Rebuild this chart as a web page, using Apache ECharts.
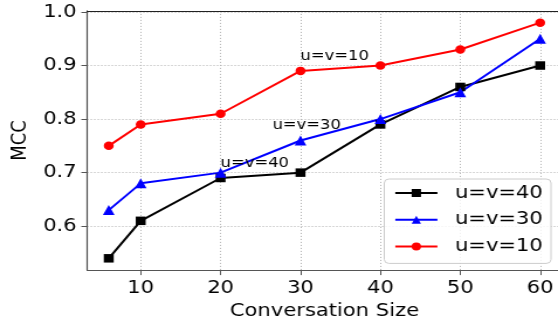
<!DOCTYPE html>
<html>
<head>
<meta charset="utf-8">
<script src="https://cdn.jsdelivr.net/npm/echarts@6/dist/echarts.min.js"></script>
<style>
  html, body { margin: 0; padding: 0; background: #fff; overflow: hidden; width: 558px; height: 325px; }
  /* The figure is laid out on a narrower canvas and widened horizontally;
     the plot area runs past the right edge of the window. */
  #chart { width: 490px; height: 325px; transform: scaleX(1.16981); transform-origin: 0 0; }
</style>
</head>
<body>
<div id="chart"></div>
<script>
// Conversation sizes on the x axis
const sizes = [6, 10, 20, 30, 40, 50, 60];

// MCC for each (u, v) setting
const mccUV40 = [0.54, 0.61, 0.69, 0.70, 0.79, 0.86, 0.90];
const mccUV30 = [0.63, 0.68, 0.70, 0.76, 0.80, 0.85, 0.95];
const mccUV10 = [0.75, 0.79, 0.81, 0.89, 0.90, 0.93, 0.98];

// Tick labels
const xTicks = [10, 20, 30, 40, 50, 60];
const yTicks = [0.6, 0.7, 0.8, 0.9, 1.0];

// In-plot annotations (text, x, y at the text baseline)
const notes = [
  { text: 'u=v=10', x: 30, y: 0.91 },
  { text: 'u=v=30', x: 26.5, y: 0.78 },
  { text: 'u=v=40', x: 20, y: 0.71 }
];

const FONT = 'DejaVu Sans';
const pairs = vals => sizes.map((s, i) => [s, vals[i]]);

function noteMarks(list) {
  return {
    symbol: 'circle',
    symbolSize: 0,
    silent: true,
    label: {
      show: true,
      position: [0, 0],
      align: 'left',
      verticalAlign: 'bottom',
      offset: [0, 3],
      fontFamily: FONT,
      fontSize: 14,
      color: '#000',
      formatter: p => p.name
    },
    data: list.map(n => ({ name: n.text, coord: [n.x, n.y] }))
  };
}

const chart = echarts.init(document.getElementById('chart'), null, { renderer: 'canvas' });

const lineSeries = (name, vals, color, symbol, size, marks) => ({
  name: name,
  type: 'line',
  data: pairs(vals),
  color: color,
  symbol: symbol,
  symbolSize: size,
  showAllSymbol: true,
  lineStyle: { color: color, width: 2 },
  itemStyle: { color: color },
  emphasis: { disabled: true },
  markPoint: marks,
  z: 3
});

chart.setOption({
  animation: false,
  grid: { left: 71, right: 9.8, top: 10.9, bottom: 52.3, containLabel: false },
  xAxis: [{
    type: 'value',
    min: 3.3,
    max: 62.7,
    position: 'bottom',
    name: 'Conversation Size',
    nameLocation: 'middle',
    nameGap: 31,
    nameTextStyle: { fontFamily: FONT, fontSize: 18, color: '#000' },
    axisLine: { show: true, lineStyle: { color: '#555', width: 1.2 } },
    axisTick: { show: true, length: 5, customValues: xTicks, lineStyle: { color: '#555', width: 1 } },
    axisLabel: { show: true, customValues: xTicks, margin: 9, fontFamily: FONT, fontSize: 18, color: '#000',
                 formatter: v => String(v) },
    splitLine: { show: true, lineStyle: { color: '#b0b0b0', width: 1, type: [1, 2] } }
  }, {
    type: 'value',
    min: 3.3,
    max: 62.7,
    position: 'top',
    axisLine: { show: true, lineStyle: { color: '#222', width: 1 } },
    axisTick: { show: false },
    axisLabel: { show: false },
    splitLine: { show: false }
  }],
  yAxis: {
    type: 'value',
    min: 0.518,
    max: 1.002,
    name: 'MCC',
    nameLocation: 'middle',
    nameGap: 40,
    nameRotate: 90,
    nameTextStyle: { fontFamily: FONT, fontSize: 18, color: '#000' },
    axisLine: { show: true, lineStyle: { color: '#555', width: 1.2 } },
    axisTick: { show: true, length: 5, customValues: yTicks, lineStyle: { color: '#555', width: 1 } },
    axisLabel: { show: true, customValues: yTicks, margin: 9, padding: [5, 0, 0, 0],
                 fontFamily: FONT, fontSize: 18, color: '#000',
                 formatter: v => v.toFixed(1) },
    splitLine: { show: true, lineStyle: { color: '#b0b0b0', width: 1, type: [1, 2] } }
  },
  legend: {
    orient: 'vertical',
    left: 328.5,
    top: 179,
    padding: [5, 7, 8, 8.4],
    itemGap: 8.7,
    itemWidth: 36,
    itemHeight: 10,
    backgroundColor: 'rgba(255,255,255,0.8)',
    borderColor: '#cccccc',
    borderWidth: 1,
    borderRadius: 4,
    textStyle: { fontFamily: FONT, fontSize: 18, color: '#000', padding: [0, 0, 0, 10] },
    data: ['u=v=40', 'u=v=30', 'u=v=10']
  },
  series: [
    lineSeries('u=v=40', mccUV40, '#000000', 'rect', 8.5, noteMarks([notes[2]])),
    lineSeries('u=v=30', mccUV30, '#0000ff', 'triangle', 10, noteMarks([notes[1]])),
    lineSeries('u=v=10', mccUV10, '#ff0000', 'circle', 8.5, noteMarks([notes[0]]))
  ]
});
</script>
</body>
</html>
